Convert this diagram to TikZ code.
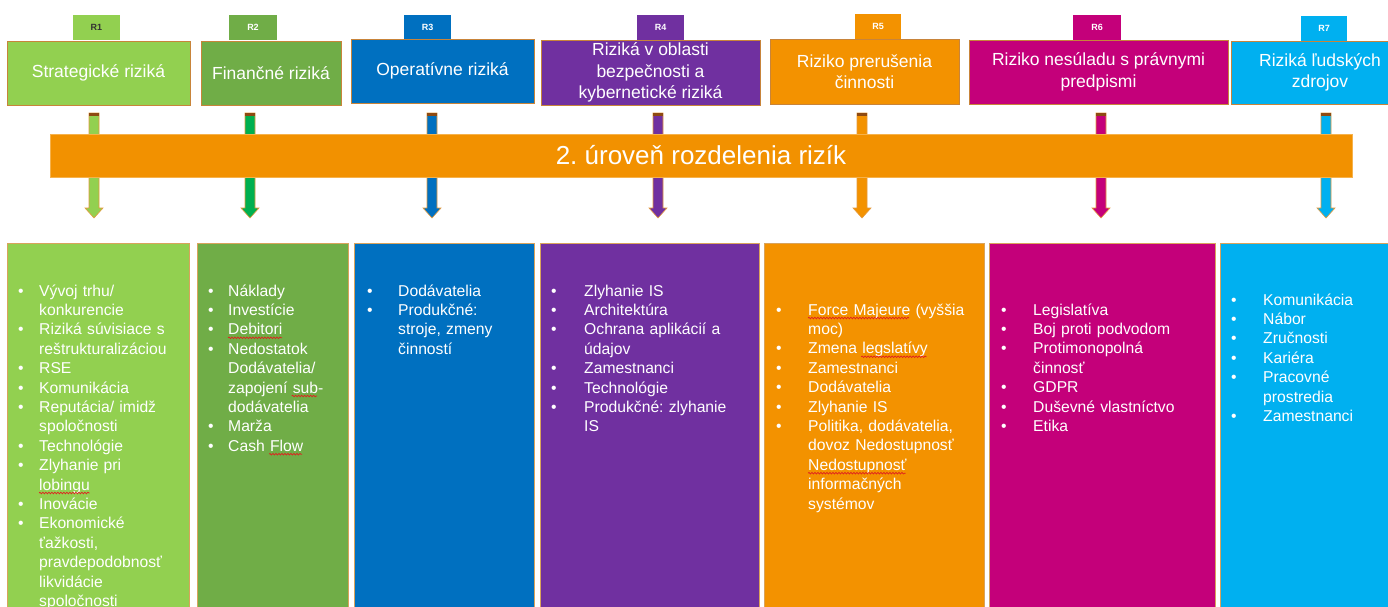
\documentclass[tikz,border=0pt]{standalone}
\usepackage{fontspec}
\setmainfont{Liberation Sans}
\usetikzlibrary{decorations.pathmorphing}
\definecolor{c1}{HTML}{92D050}
\definecolor{c2}{HTML}{70AD47}
\definecolor{c3}{HTML}{0070C0}
\definecolor{c4}{HTML}{7030A0}
\definecolor{c5}{HTML}{F39200}
\definecolor{c6}{HTML}{C4007A}
\definecolor{c7}{HTML}{00B0F0}
\definecolor{a2}{HTML}{00B050}
\definecolor{bandc}{HTML}{F29100}
\definecolor{hbord}{HTML}{C8843A}
\definecolor{cbord}{HTML}{D9A35C}
\definecolor{arrbord}{HTML}{E59A3C}
\definecolor{capc}{HTML}{8E4A12}
\definecolor{squigred}{HTML}{E02020}
\newlength\colind
\newcommand\bul{\makebox[\colind][l]{\textbullet}}
\newcommand\cont{\hspace*{\colind}}
\newcommand\fatarrow[2]{%
  \begin{scope}[shift={(#1)}]
    \filldraw[fill=#2, draw=arrbord, line width=0.6pt] (-5,0) -- (5,0) -- (5,95) -- (9,95) -- (0,105) -- (-9,95) -- (-5,95) -- cycle;
    \fill[capc] (-5,0) rectangle (5,3);
  \end{scope}}
\tikzset{
  hdr/.style={draw=hbord, line width=1pt, text=white, font=\fontsize{17.5}{21.5}\selectfont, align=center, inner sep=0pt},
  tabbox/.style={inner sep=0pt, font=\bfseries\fontsize{9}{10}\selectfont, text=white, minimum height=25pt},
  colbox/.style={draw=cbord, line width=1pt, inner sep=0pt, anchor=north west, minimum height=380pt},
  coltext/.style={text=white, font=\fontsize{15.7}{19.4}\selectfont, align=left, inner sep=0pt, anchor=north west, text width=260pt},
  bandbox/.style={fill=bandc, draw=bandc!70!white, line width=0.6pt, text=white, font=\fontsize{26}{30}\selectfont, inner sep=0pt},
  squig/.style={draw=squigred, line width=0.7pt, decorate, decoration={snake, amplitude=0.8pt, segment length=3pt}}
}
\begin{document}
\frenchspacing
\begin{tikzpicture}[x=1pt, y=-1pt]
\useasboundingbox (0,0) rectangle (1388,606);
\fill[white] (0,0) rectangle (1388,606);

% lower columns
\node[colbox, fill=c1, minimum width=182pt] (col1) at (7,243) {};
\node[colbox, fill=c2, minimum width=151pt] (col2) at (197,243) {};
\node[colbox, fill=c3, minimum width=180pt] (col3) at (354,243) {};
\node[colbox, fill=c4, minimum width=219pt] (col4) at (540,243) {};
\node[colbox, fill=c5, minimum width=220pt] (col5) at (764,243) {};
\node[colbox, fill=c6, minimum width=226pt] (col6) at (989,243) {};
\node[colbox, fill=c7, minimum width=190pt] (col7) at (1220,243) {};

% tabs
\node[tabbox, fill=c1, minimum width=47pt, text=black!80] (r1) at (96.5,27.5) {R1};
\node[tabbox, fill=c2, minimum width=48pt] (r2) at (253,27.5) {R2};
\node[tabbox, fill=c3, minimum width=47pt] (r3) at (427.5,27.5) {R3};
\node[tabbox, fill=c4, minimum width=47pt] (r4) at (660.5,27.5) {R4};
\node[tabbox, fill=c5, minimum width=46pt] (r5) at (878,26.5) {R5};
\node[tabbox, fill=c6, minimum width=48pt] (r6) at (1097,27.5) {R6};
\node[tabbox, fill=c7, minimum width=46pt] (r7) at (1324,28.5) {R7};

% headers
\node[hdr, fill=c1, minimum width=183pt, minimum height=64pt] (h1) at (98.5,73) {Strategické riziká};
\node[hdr, fill=c2, minimum width=140pt, minimum height=64pt] (h2) at (271,73) {Finančné riziká};
\node[hdr, fill=c3, minimum width=183pt, minimum height=64pt] (h3) at (442.5,71) {Operatívne riziká};
\node[hdr, fill=c4, minimum width=219pt, minimum height=65pt] (h4) at (650.5,72.5) {Riziká v oblasti\\bezpečnosti a\\kybernetické riziká};
\node[hdr, fill=c5, minimum width=189pt, minimum height=65pt] (h5) at (864.5,71.5) {Riziko prerušenia\\činnosti};
\node[hdr, fill=c6, minimum width=259pt, minimum height=64pt] (h6) at (1098.5,72) {Riziko nesúladu s právnymi\\predpismi};
\node[hdr, fill=c7, minimum width=178pt, minimum height=63pt] (h7) at (1320,72.5) {Riziká ľudských\\zdrojov};

% arrows
\coordinate (a1) at (94,113);
\coordinate (a2) at (250,113);
\coordinate (a3) at (432,113);
\coordinate (a4) at (658,113);
\coordinate (a5) at (862,113);
\coordinate (a6) at (1101,113);
\coordinate (a7) at (1326,113);
\fatarrow{a1}{c1}
\fatarrow{a2}{a2}
\fatarrow{a3}{c3}
\fatarrow{a4}{c4}
\fatarrow{a5}{c5}
\fatarrow{a6}{c6}
\fatarrow{a7}{c7}

% band
\node[bandbox, minimum width=1302pt, minimum height=43pt] (band) at (701,155.5) {2. úroveň rozdelenia rizík};

% column texts
\node[coltext] (t1) at (18,282.4) {\setlength\colind{21pt}\noindent\strut\bul Vývoj trhu/\\
\cont konkurencie\\
\bul Riziká súvisiace s\\
\cont reštrukturalizáciou\\
\bul RSE\\
\bul Komunikácia\\
\bul Reputácia/ imidž\\
\cont spoločnosti\\
\bul Technológie\\
\bul Zlyhanie pri\\
\cont lobingu\\
\bul Inovácie\\
\bul Ekonomické\\
\cont ťažkosti,\\
\cont pravdepodobnosť\\
\cont likvidácie\\
\cont spoločnosti};

\node[coltext] (t2) at (208,282.4) {\setlength\colind{20pt}\noindent\strut\bul Náklady\\
\bul Investície\\
\bul Debitori\\
\bul Nedostatok\\
\cont Dodávatelia/\\
\cont zapojení sub-\\
\cont dodávatelia\\
\bul Marža\\
\bul Cash Flow};

\node[coltext] (t3) at (367,282.4) {\setlength\colind{31pt}\noindent\strut\bul Dodávatelia\\
\bul Produkčné:\\
\cont stroje, zmeny\\
\cont činností};

\node[coltext] (t4) at (551,282.4) {\setlength\colind{33pt}\noindent\strut\bul Zlyhanie IS\\
\bul Architektúra\\
\bul Ochrana aplikácií a\\
\cont údajov\\
\bul Zamestnanci\\
\bul Technológie\\
\bul Produkčné: zlyhanie\\
\cont IS};

\node[coltext] (t5) at (776,301.4) {\setlength\colind{32pt}\noindent\strut\bul Force Majeure (vyššia\\
\cont moc)\\
\bul Zmena legslatívy\\
\bul Zamestnanci\\
\bul Dodávatelia\\
\bul Zlyhanie IS\\
\bul Politika, dodávatelia,\\
\cont dovoz Nedostupnosť\\
\cont Nedostupnosť\\
\cont informačných\\
\cont systémov};

\node[coltext] (t6) at (1001,301.4) {\setlength\colind{32pt}\noindent\strut\bul Legislatíva\\
\bul Boj proti podvodom\\
\bul Protimonopolná\\
\cont činnosť\\
\bul GDPR\\
\bul Duševné vlastníctvo\\
\bul Etika};

\node[coltext] (t7) at (1231,291.4) {\setlength\colind{32pt}\noindent\strut\bul Komunikácia\\
\bul Nábor\\
\bul Zručnosti\\
\bul Kariéra\\
\bul Pracovné\\
\cont prostredia\\
\bul Zamestnanci};

% spell-check squiggles
\draw[squig] ([shift={(21,210.6)}]t1.north west) -- ++(50.6,0);
\draw[squig] ([shift={(20,55.4)}]t2.north west) -- ++(54,0);
\draw[squig] ([shift={(83.7,113.6)}]t2.north west) -- ++(25.3,0);
\draw[squig] ([shift={(61,171.8)}]t2.north west) -- ++(33,0);
\draw[squig] ([shift={(32,16.6)}]t5.north west) -- ++(101,0);
\draw[squig] ([shift={(85.2,55.4)}]t5.north west) -- ++(65.4,0);
\draw[squig] ([shift={(32,171.8)}]t5.north west) -- ++(97.7,0);
\end{tikzpicture}
\end{document}
